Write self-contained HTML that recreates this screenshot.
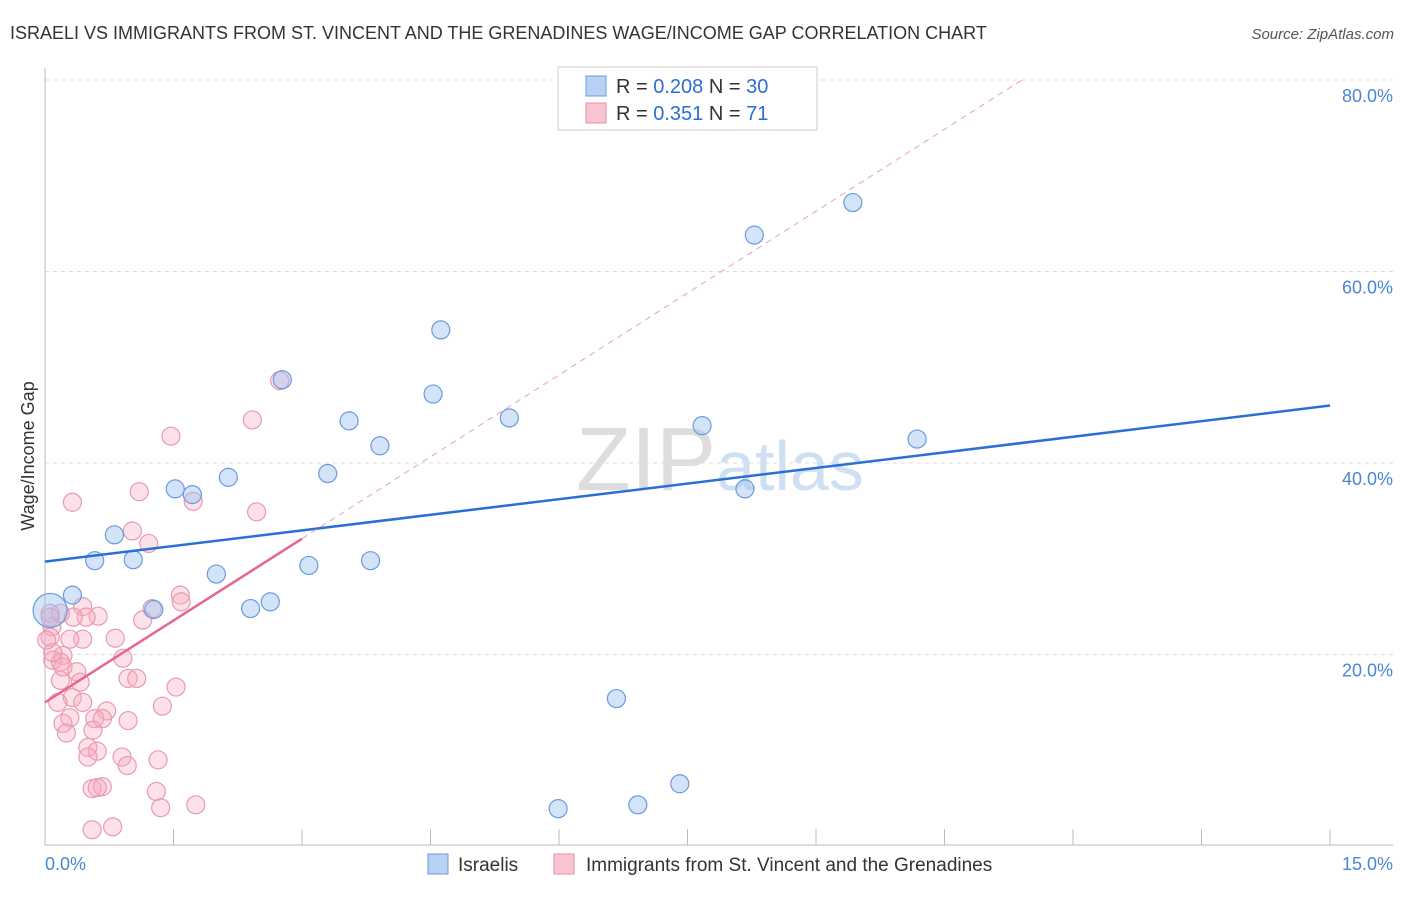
<!DOCTYPE html>
<html><head><meta charset="utf-8"><style>
body{margin:0;background:#fff;font-family:"Liberation Sans",sans-serif;}
svg text{font-family:"Liberation Sans",sans-serif;}
</style></head><body>
<svg id="c" width="1406" height="892" xmlns="http://www.w3.org/2000/svg">
<text x="10" y="39" font-size="18" fill="#333">ISRAELI VS IMMIGRANTS FROM ST. VINCENT AND THE GRENADINES WAGE/INCOME GAP CORRELATION CHART</text>
<text x="1394" y="39" font-size="15" fill="#555" font-style="italic" text-anchor="end">Source: ZipAtlas.com</text>
<text x="720" y="490" font-size="90" fill="#ddd" text-anchor="middle" font-family="Liberation Serif">ZIP<tspan fill="#cfe0f3" font-family="Liberation Sans" font-size="70">atlas</tspan></text>
<text transform="translate(34,456) rotate(-90)" font-size="18" fill="#333" text-anchor="middle">Wage/Income Gap</text>
<g id="grid"></g><g id="pts"></g><g id="lines"></g>
<g>
<rect x="558" y="67" width="259" height="63" fill="#fff" stroke="#ccc"/>
<rect x="586" y="76" width="20" height="20" fill="#b8d2f4" stroke="#6a9ade"/>
<text x="616" y="93" font-size="20" fill="#333">R = <tspan fill="#2a6fd6">0.208</tspan>   N = <tspan fill="#2a6fd6">30</tspan></text>
<rect x="586" y="103" width="20" height="20" fill="#f9c4d2" stroke="#e890a8"/>
<text x="616" y="120" font-size="20" fill="#333">R =  <tspan fill="#2a6fd6">0.351</tspan>   N =  <tspan fill="#2a6fd6">71</tspan></text>
</g>
<g>
<rect x="428" y="854" width="20" height="20" fill="#b8d2f4" stroke="#6a9ade"/>
<text x="458" y="871" font-size="19" fill="#333">Israelis</text>
<rect x="554" y="854" width="20" height="20" fill="#f9c4d2" stroke="#e890a8"/>
<text x="586" y="871" font-size="19" fill="#333">Immigrants from St. Vincent and the Grenadines</text>
</g>
</svg>
<script>
const yTicks=[20,40,60,80];
const yTickLabels=["20.0%","40.0%","60.0%","80.0%"];
const xTicks=[0,1.5,3,4.5,6,7.5,9,10.5,12,13.5,15];
const blueX=[0.32,0.58,0.81,1.03,1.27,1.52,1.72,2.0,2.14,2.40,2.63,2.77,3.08,3.30,3.55,3.80,3.91,4.53,4.62,5.42,5.99,6.67,6.92,7.41,7.67,8.17,8.28,9.43,10.18,0.06];
const blueY=[26.2,29.8,32.5,29.9,24.7,37.3,36.7,28.4,38.5,24.8,25.5,48.7,29.3,38.9,44.4,29.8,41.8,47.2,53.9,44.7,3.9,15.4,4.3,6.5,43.9,37.3,63.8,67.2,42.5,24.6];
const pinkX=[2.42,1.47,0.32,1.10,1.73,2.47,1.02,1.21,1.58,1.59,1.25,1.14,0.44,0.62,0.48,0.33,0.18,0.06,0.82,0.44,0.29,0.06,0.21,0.09,0.18,0.91,0.37,0.97,1.07,1.53,0.18,0.41,1.37,0.32,0.44,0.15,0.72,0.29,0.21,0.25,0.97,0.58,0.67,0.56,0.50,0.61,0.50,0.90,0.96,1.32,0.55,0.67,0.61,1.30,1.35,1.76,0.55,0.79,0.09,0.08,0.02,0.21,0.06,2.74];
const pinkY=[44.5,42.8,35.9,37.0,36.0,34.9,32.9,31.6,26.2,25.5,24.8,23.6,25.0,24.0,23.9,23.9,24.3,24.3,21.7,21.6,21.6,21.8,19.9,19.4,19.2,19.6,18.2,17.5,17.5,16.6,17.3,17.1,14.6,15.5,15.0,15.0,14.1,13.4,12.8,11.8,13.1,13.3,13.3,12.1,10.3,9.9,9.3,9.3,8.4,9.0,6.0,6.2,6.1,5.7,4.0,4.3,1.7,2.0,20.2,22.9,21.5,18.7,23.9,48.6];
const blueLine=[29.7,46.0];
const pinkLine=[15.0,32.1];
const NS="http://www.w3.org/2000/svg";
const X=v=>45+v/15*1285, Y=v=>846-v/20*191.5;
function mk(t,a,p){const e=document.createElementNS(NS,t);for(const k in a)e.setAttribute(k,a[k]);p.appendChild(e);return e;}
const g=document.getElementById('grid');
yTicks.forEach((t,i)=>{
 const l=mk('line',{x1:45,x2:1393,y1:Y(t),y2:Y(t),stroke:'#ddd','stroke-dasharray':'4,4'},g);
 
 
 const tx=mk('text',{x:1393,y:Y(t)+22,'font-size':18,fill:'#4a86d6','text-anchor':'end'},g);
 tx.textContent=yTickLabels[i];
 
 
});
const ax=mk('line',{x1:45,x2:1393,y1:845,y2:845,stroke:'#bbb'},g);


const ay=mk('line',{x1:45,x2:45,y1:68,y2:845,stroke:'#bbb'},g);


xTicks.forEach(t=>{
 const l=mk('line',{x1:X(t),x2:X(t),y1:829,y2:845,stroke:'#bbb'},g);
 
 
});
const x0=mk('text',{x:45,y:870,'font-size':18,fill:'#4a86d6'},g);x0.textContent='0.0%';


const x1=mk('text',{x:1393,y:870,'font-size':18,fill:'#4a86d6','text-anchor':'end'},g);x1.textContent='15.0%';


const p=document.getElementById('pts');
pinkX.forEach((v,i)=>{
 const c=mk('circle',{cx:X(v),cy:Y(pinkY[i]),r:9,fill:'rgba(246,170,192,0.35)',stroke:'#e99ab0','stroke-width':1.2},p);
 
 
});
blueX.forEach((v,i)=>{
 const c=mk('circle',{cx:X(v),cy:Y(blueY[i]),r:i==29?17:9,fill:'rgba(160,195,240,0.45)',stroke:'#6a9ade','stroke-width':1.2},p);
 
 
});
const L=document.getElementById('lines');
const bl=mk('line',{x1:X(0),y1:Y(blueLine[0]),x2:X(15),y2:Y(blueLine[1]),stroke:'#2a6fd6','stroke-width':2.5},L);


const slope=(pinkLine[1]-pinkLine[0])/3;
const xEnd=(80-pinkLine[0])/slope;
const pd=mk('line',{x1:X(3),y1:Y(pinkLine[1]),x2:X(xEnd),y2:Y(80),stroke:'#e8a0b4','stroke-width':1,'stroke-dasharray':'6,5'},L);


const pl=mk('line',{x1:X(0),y1:Y(pinkLine[0]),x2:X(3),y2:Y(pinkLine[1]),stroke:'#e8668e','stroke-width':2.5},L);


</script>
</body></html>
